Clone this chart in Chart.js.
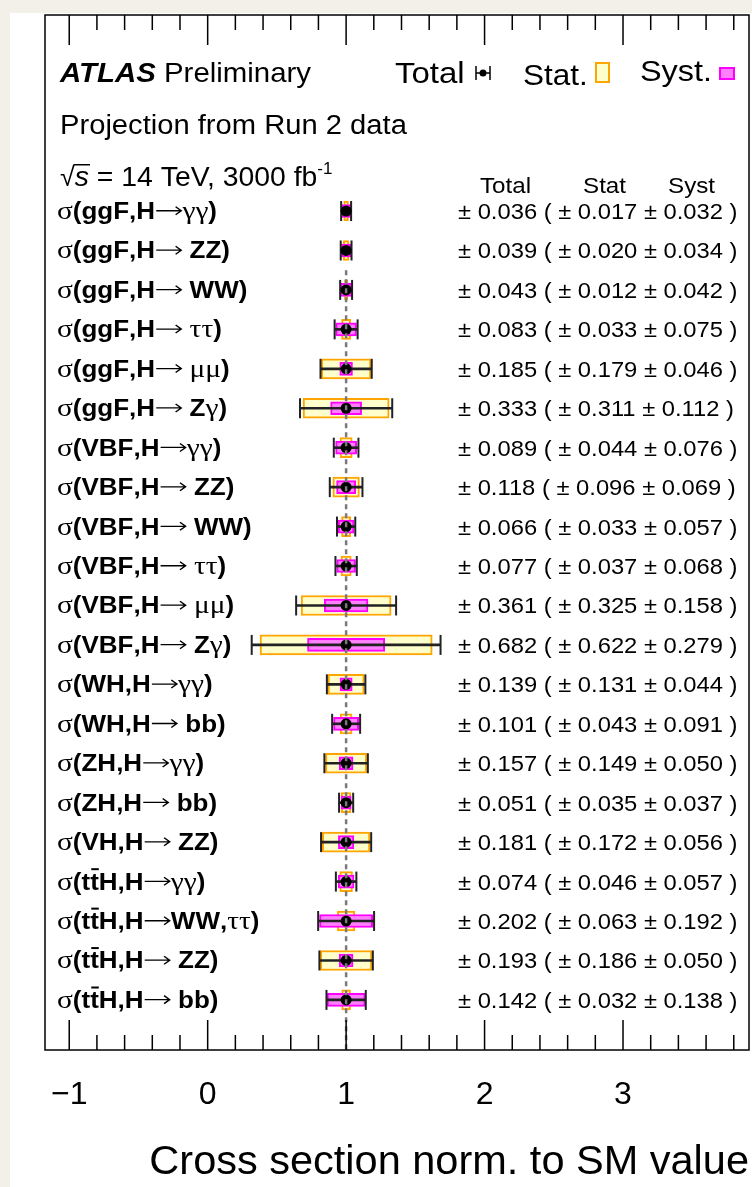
<!DOCTYPE html>
<html>
<head>
<meta charset="utf-8">
<script src="https://cdn.jsdelivr.net/npm/chart.js@4.4.1/dist/chart.umd.min.js"></script>
<style>
  html, body { margin: 0; padding: 0; background: #f3f0ea; }
  #chart { position: absolute; left: 10px; top: 13px; background: #fff; }
</style>
</head>
<body>
<canvas id="chart" width="742" height="1174"></canvas>
<script>
// measurements, top row first
const categories = [
  "σ(ggF,H→γγ)", "σ(ggF,H→ ZZ)", "σ(ggF,H→ WW)", "σ(ggF,H→ ττ)", "σ(ggF,H→ μμ)", "σ(ggF,H→ Zγ)",
  "σ(VBF,H→γγ)", "σ(VBF,H→ ZZ)", "σ(VBF,H→ WW)", "σ(VBF,H→ ττ)", "σ(VBF,H→ μμ)", "σ(VBF,H→ Zγ)",
  "σ(WH,H→γγ)", "σ(WH,H→ bb)", "σ(ZH,H→γγ)", "σ(ZH,H→ bb)", "σ(VH,H→ ZZ)",
  "σ(tt\u0304H,H→γγ)", "σ(tt\u0304H,H→WW,ττ)", "σ(tt\u0304H,H→ ZZ)", "σ(tt\u0304H,H→ bb)"
];
const centralValues = [1, 1, 1, 1, 1, 1, 1, 1, 1, 1, 1, 1, 1, 1, 1, 1, 1, 1, 1, 1, 1];
const totalErr = [0.036, 0.039, 0.043, 0.083, 0.185, 0.333, 0.089, 0.118, 0.066, 0.077, 0.361, 0.682,
  0.139, 0.101, 0.157, 0.051, 0.181, 0.074, 0.202, 0.193, 0.142];
const statErr = [0.017, 0.020, 0.012, 0.033, 0.179, 0.311, 0.044, 0.096, 0.033, 0.037, 0.325, 0.622,
  0.131, 0.043, 0.149, 0.035, 0.172, 0.046, 0.063, 0.186, 0.032];
const systErr = [0.032, 0.034, 0.042, 0.075, 0.046, 0.112, 0.076, 0.069, 0.057, 0.068, 0.158, 0.279,
  0.044, 0.091, 0.050, 0.037, 0.056, 0.057, 0.192, 0.050, 0.138];
const xTicks = [-1, 0, 1, 2, 3];

const SANS = "'Liberation Sans', Arial, Helvetica, sans-serif";
const SERIF = "'Liberation Serif', 'Times New Roman', serif";
const GREEK = "σγτμ";
const YELLOW = "#ffffcc", ORANGE = "#ffa500", PINK = "#ff80ff", MAGENTA = "#ff00ff";

// ROOT style label: bold latin, plain greek, drawn arrow, combining macron as overline
function drawLabel(ctx, text, x, y, size, sx) {
  ctx.save();
  ctx.translate(x, y);
  ctx.scale(sx, 1);
  let cx = 0, prevW = 0;
  for (const ch of text) {
    if (ch === "\u0304") {
      ctx.fillRect(cx - prevW + 1, -size * 0.93, prevW - 1, 2);
      continue;
    }
    if (ch === "→") {
      const w = size * 1.05, my = -size * 0.36;
      ctx.save();
      ctx.strokeStyle = "#000";
      ctx.lineWidth = 1.3;
      ctx.beginPath();
      ctx.moveTo(cx + 1, my); ctx.lineTo(cx + w - 1, my);
      ctx.moveTo(cx + w - 6, my - 4); ctx.lineTo(cx + w - 1, my); ctx.lineTo(cx + w - 6, my + 4);
      ctx.stroke();
      ctx.restore();
      prevW = w;
      cx += w;
      continue;
    }
    ctx.font = GREEK.includes(ch) ? size + 3 + "px " + SERIF : "bold " + size + "px " + SANS;
    ctx.fillText(ch, cx, 0);
    prevW = ctx.measureText(ch).width;
    cx += prevW;
  }
  ctx.restore();
}

function stretchText(ctx, text, x, y, font, sx) {
  ctx.save();
  ctx.translate(x, y);
  ctx.scale(sx, 1);
  ctx.font = font;
  ctx.fillText(text, 0, 0);
  const w = ctx.measureText(text).width * sx;
  ctx.restore();
  return w;
}

const atlasText = {
  id: "atlasText",
  afterDraw(chart) {
    const { ctx, chartArea: a, scales } = chart;
    const xs = scales.x, ys = scales.y;
    ctx.save();
    ctx.fillStyle = "#000";
    ctx.textBaseline = "alphabetic";
    ctx.textAlign = "left";

    // frame and inward ticks
    ctx.strokeStyle = "#000";
    ctx.lineWidth = 1.5;
    ctx.strokeRect(a.left, a.top, a.right - a.left, a.bottom - a.top);
    for (let k = 0; k <= 25; k++) {
      const v = -1 + k * 0.2;
      const px = xs.getPixelForValue(v);
      if (px > a.right) break;
      const len = xTicks.includes(Math.round(v * 1000) / 1000) ? 30 : 15;
      ctx.beginPath();
      ctx.moveTo(px, a.top); ctx.lineTo(px, a.top + len);
      ctx.moveTo(px, a.bottom); ctx.lineTo(px, a.bottom - len);
      ctx.stroke();
    }

    // headline
    let w = stretchText(ctx, "ATLAS", 50, 69, "italic bold 28px " + SANS, 1.05);
    stretchText(ctx, " Preliminary", 50 + w, 69, "28px " + SANS, 1.05);
    stretchText(ctx, "Projection from Run 2 data", 50, 121, "27px " + SANS, 1.08);
    w = stretchText(ctx, "√", 50, 173, "27px " + SANS, 1.0);
    const sw = stretchText(ctx, "s", 50 + w, 173, "italic 27px " + SANS, 1.05);
    ctx.fillRect(50 + w - 1, 151, sw + 2, 1.5);
    w += sw;
    w += stretchText(ctx, " = 14 TeV, 3000 fb", 50 + w, 173, "27px " + SANS, 1.05);
    stretchText(ctx, "-1", 50 + w, 161, "17px " + SANS, 1.0);

    // legend
    stretchText(ctx, "Total", 385, 70, "30px " + SANS, 1.1);
    ctx.lineWidth = 1.5;
    ctx.beginPath();
    ctx.moveTo(466, 60); ctx.lineTo(480, 60);
    ctx.moveTo(466, 53); ctx.lineTo(466, 67);
    ctx.moveTo(480, 53); ctx.lineTo(480, 67);
    ctx.stroke();
    ctx.beginPath(); ctx.arc(473, 60, 3.5, 0, Math.PI * 2); ctx.fill();
    stretchText(ctx, "Stat.", 513, 72, "30px " + SANS, 1.05);
    ctx.fillStyle = YELLOW; ctx.fillRect(586, 50, 13, 19);
    ctx.strokeStyle = ORANGE; ctx.lineWidth = 2; ctx.strokeRect(586, 50, 13, 19);
    ctx.fillStyle = "#000";
    stretchText(ctx, "Syst.", 630, 68, "30px " + SANS, 1.08);
    ctx.fillStyle = PINK; ctx.fillRect(710, 55, 14, 11);
    ctx.strokeStyle = MAGENTA; ctx.strokeRect(710, 55, 14, 11);
    ctx.fillStyle = "#000";

    // column header and values
    stretchText(ctx, "Total", 470, 180, "22px " + SANS, 1.1);
    stretchText(ctx, "Stat", 573, 180, "22px " + SANS, 1.1);
    stretchText(ctx, "Syst", 658, 180, "22px " + SANS, 1.1);
    categories.forEach((label, i) => {
      const py = ys.getPixelForValue(i);
      drawLabel(ctx, label, 47, py + 8, 23, 1.13);
      const s = "± " + totalErr[i].toFixed(3) + " ( ± " + statErr[i].toFixed(3) + " ± " + systErr[i].toFixed(3) + " )";
      stretchText(ctx, s, 448, py + 8, "22px " + SANS, 1.08);
    });
    ctx.restore();
  }
};

const rows = categories.map((_, i) => i);

new Chart(document.getElementById("chart"), {
  data: {
    datasets: [
      {
        type: "bar", indexAxis: "y", order: 5,
        data: rows.map(i => ({ x: [centralValues[i] - statErr[i], centralValues[i] + statErr[i]], y: i })),
        backgroundColor: YELLOW, borderColor: ORANGE, borderWidth: 2,
        borderSkipped: false, barThickness: 20, grouped: false
      },
      {
        type: "bar", indexAxis: "y", order: 4,
        data: rows.map(i => ({ x: [centralValues[i] - systErr[i], centralValues[i] + systErr[i]], y: i })),
        backgroundColor: PINK, borderColor: MAGENTA, borderWidth: 2,
        borderSkipped: false, barThickness: 13, grouped: false
      },
      {
        type: "bar", indexAxis: "y", order: 3,
        data: rows.map(i => ({ x: [centralValues[i] - totalErr[i], centralValues[i] + totalErr[i]], y: i })),
        backgroundColor: "#222", borderWidth: 0, barThickness: 2, grouped: false
      },
      {
        type: "scatter", order: 2,
        data: rows.flatMap(i => [
          { x: centralValues[i] - totalErr[i], y: i },
          { x: centralValues[i] + totalErr[i], y: i }
        ]),
        pointStyle: "line", rotation: 90, radius: 10, borderWidth: 2, borderColor: "#222"
      },
      {
        type: "scatter", order: 1,
        data: rows.map(i => ({ x: centralValues[i], y: i })),
        pointStyle: "circle", radius: 5.5, backgroundColor: "#000", borderColor: "#000", borderWidth: 0
      },
      {
        type: "line", order: 0,
        data: [{ x: 1, y: 1.5 }, { x: 1, y: 21.3 }],
        borderColor: "#7a7a7a", borderWidth: 2.5, borderDash: [5, 4], pointRadius: 0, fill: false
      }
    ]
  },
  options: {
    responsive: false,
    animation: false,
    events: [],
    layout: { autoPadding: false, padding: { left: 35, right: 3, top: 2, bottom: 0 } },
    plugins: { legend: { display: false }, tooltip: { enabled: false } },
    scales: {
      x: {
        type: "linear", min: -1.175, max: 3.91, offset: false,
        grid: { display: false, drawTicks: false },
        border: { display: false },
        ticks: {
          stepSize: 1, includeBounds: false, padding: 26, color: "#000",
          font: { family: SANS, size: 32 },
          callback: v => (v < 0 ? "\u2212" + Math.abs(v) : String(v))
        },
        title: {
          display: true, text: "Cross section norm. to SM value", align: "end", color: "#000",
          font: { family: SANS, size: 41.5, lineHeight: 1.2 }, padding: 0
        },
        afterFit: s => { s.height = 137; }
      },
      y: { type: "linear", min: -4.97, max: 21.27, reverse: true, display: false, offset: false }
    }
  },
  plugins: [atlasText]
});
</script>
</body>
</html>
